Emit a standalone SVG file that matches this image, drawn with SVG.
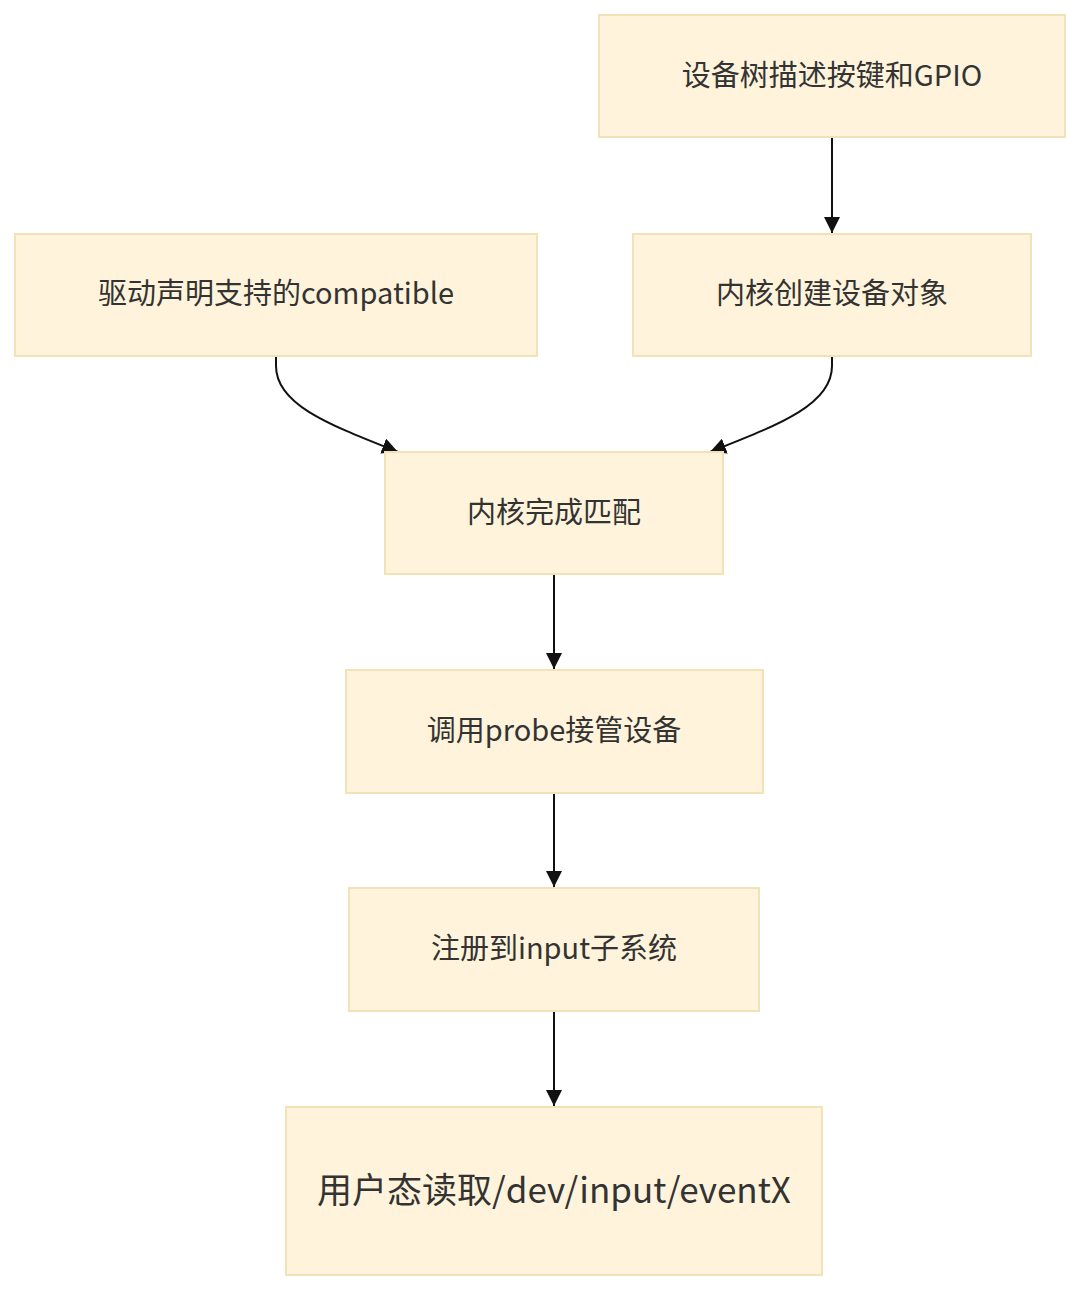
<svg xmlns="http://www.w3.org/2000/svg" width="1080" height="1291" viewBox="0 0 1080 1291">
<defs>
<style>
.node rect{fill:#fff3db;stroke:#f2e2b8;stroke-width:2}
.node text{font-family:"Noto Sans CJK SC","Noto Sans",sans-serif;font-size:29px;fill:#333;text-anchor:middle;dominant-baseline:central}
.edge{fill:none;stroke:#111;stroke-width:2}
</style>
<marker id="arrow" viewBox="0 0 10 10" refX="10" refY="5" markerWidth="16" markerHeight="16" markerUnits="userSpaceOnUse" orient="auto">
<path d="M0,0 L10,5 L0,10 z" fill="#111"/>
</marker>
</defs>
<rect width="1080" height="1291" fill="#fff"/>
<g id="connectors">
<path class="edge" d="M832,138 V233" marker-end="url(#arrow)"/>
<path class="edge" d="M276,357 V366 C276,405 330,425 398,452" marker-end="url(#arrow)"/>
<path class="edge" d="M832,357 V366 C832,405 778,425 710,452" marker-end="url(#arrow)"/>
<path class="edge" d="M554,575 V669" marker-end="url(#arrow)"/>
<path class="edge" d="M554,794 V887" marker-end="url(#arrow)"/>
<path class="edge" d="M554,1012 V1106" marker-end="url(#arrow)"/>
</g>
<g id="n1" class="node"><rect x="599" y="15" width="466" height="122"/><text x="832" y="73">设备树描述按键和GPIO</text></g>
<g id="n2" class="node"><rect x="15" y="234" width="522" height="122"/><text x="276" y="291">驱动声明支持的compatible</text></g>
<g id="n3" class="node"><rect x="633" y="234" width="398" height="122"/><text x="832" y="291">内核创建设备对象</text></g>
<g id="n4" class="node"><rect x="385" y="452" width="338" height="122"/><text x="554" y="510">内核完成匹配</text></g>
<g id="n5" class="node"><rect x="346" y="670" width="417" height="123"/><text x="554" y="728">调用probe接管设备</text></g>
<g id="n6" class="node"><rect x="349" y="888" width="410" height="123"/><text x="554" y="946">注册到input子系统</text></g>
<g id="n7" class="node"><rect x="286" y="1107" width="536" height="168"/><text x="554" y="1187" style="font-size:35px">用户态读取/dev/input/eventX</text></g>
</svg>
